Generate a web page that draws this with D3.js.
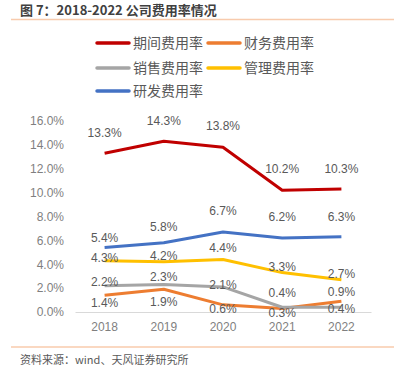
<!DOCTYPE html>
<html>
<head>
<meta charset="utf-8">
<script src="https://cdn.jsdelivr.net/npm/d3@7"></script>
<style>
  body { margin: 0; background: #fff; }
  text { font-family: "Liberation Sans", Arial, "Noto Sans CJK SC", sans-serif; }
  .cjk { font-family: "Noto Sans CJK SC", "Liberation Sans", sans-serif; }
</style>
</head>
<body>
<div id="chart"></div>
<script>
// data
const years = ["2018", "2019", "2020", "2021", "2022"];
const seriesNames = ["期间费用率", "财务费用率", "销售费用率", "管理费用率", "研发费用率"];
const qijian = [13.3, 14.3, 13.8, 10.2, 10.3];
const caiwu = [1.4, 1.9, 0.6, 0.3, 0.9];
const xiaoshou = [2.2, 2.3, 2.1, 0.4, 0.4];
const guanli = [4.3, 4.2, 4.4, 3.3, 2.7];
const yanfa = [5.4, 5.8, 6.7, 6.2, 6.3];
const yTicks = [0, 2, 4, 6, 8, 10, 12, 14, 16];

const colors = ["#C00000", "#ED7D31", "#A5A5A5", "#FFC000", "#4472C4"];
// vertical offset of each value label from its point
const labelDy = [
  [-20, -20, -21, -21, -20],
  [8, 12, 4, 4, -9],
  [-4, -8, -2, -14, 2],
  [-3, -6, -12, -6, -6],
  [-10, -16, -21, -21, -20]
];

const W = 394, H = 370;
const svg = d3.select("#chart").append("svg").attr("width", W).attr("height", H);

// title
svg.append("text").attr("class", "cjk").attr("x", 20).attr("y", 15)
  .attr("font-size", 13).attr("font-weight", "bold").attr("fill", "#404040")
  .text("图 7：2018-2022 公司费用率情况");
svg.append("line").attr("x1", 11).attr("x2", W).attr("y1", 19.5).attr("y2", 19.5)
  .attr("stroke", "#F8CBAD").attr("stroke-width", 1.5);
svg.append("line").attr("x1", 11).attr("x2", W).attr("y1", 347).attr("y2", 347)
  .attr("stroke", "#F8CBAD").attr("stroke-width", 1.5);
svg.append("text").attr("class", "cjk").attr("x", 20).attr("y", 364)
  .attr("font-size", 11).attr("fill", "#595959")
  .text("资料来源：wind、天风证券研究所");

// scales
const x = d3.scaleBand().domain(years).range([75, 371]);
const y = d3.scaleLinear().domain([0, 16]).range([312, 121]);
const cx = d => x(d) + x.bandwidth() / 2;

// y axis labels
const yAxis = svg.append("g").attr("transform", "translate(75,0)")
  .call(d3.axisLeft(y).tickValues(yTicks).tickSize(0).tickPadding(11)
    .tickFormat(d => d.toFixed(1) + "%"));
yAxis.select(".domain").remove();
yAxis.selectAll("text").attr("font-size", 12).attr("fill", "#7F7F7F")
  .style("font-family", "'Liberation Sans', Arial, sans-serif");

// x axis
const xAxis = svg.append("g").attr("transform", "translate(0,312)")
  .call(d3.axisBottom(x).tickSize(0).tickPadding(10));
xAxis.select(".domain").attr("stroke", "#D9D9D9").attr("stroke-width", 1);
xAxis.selectAll("text").attr("font-size", 12).attr("fill", "#7F7F7F")
  .style("font-family", "'Liberation Sans', Arial, sans-serif");

// lines
const allSeries = [qijian, caiwu, xiaoshou, guanli, yanfa];
const line = d3.line().x((d, i) => cx(years[i])).y(d => y(d));
allSeries.forEach((vals, s) => {
  svg.append("path").datum(vals).attr("d", line).attr("fill", "none")
    .attr("stroke", colors[s]).attr("stroke-width", 3).attr("stroke-linejoin", "round");
});

// value labels
allSeries.forEach((vals, s) => {
  svg.append("g").selectAll("text").data(vals).enter().append("text")
    .attr("x", (d, i) => cx(years[i]))
    .attr("y", (d, i) => y(d) + labelDy[s][i])
    .attr("dy", "0.35em")
    .attr("text-anchor", "middle")
    .attr("font-size", 12).attr("fill", "#595959")
    .text(d => d.toFixed(1) + "%");
});

// legend
const legendPos = [[97, 43], [208, 43], [97, 68], [208, 68], [97, 91]];
seriesNames.forEach((name, s) => {
  const g = svg.append("g").attr("transform", `translate(${legendPos[s][0]},${legendPos[s][1]})`);
  g.append("line").attr("x1", 0).attr("x2", 32).attr("stroke", colors[s])
    .attr("stroke-width", 3.5).attr("stroke-linecap", "round");
  g.append("text").attr("class", "cjk").attr("x", 36).attr("dy", "0.35em")
    .attr("font-size", 14).attr("fill", "#595959").text(name);
});
</script>
</body>
</html>
